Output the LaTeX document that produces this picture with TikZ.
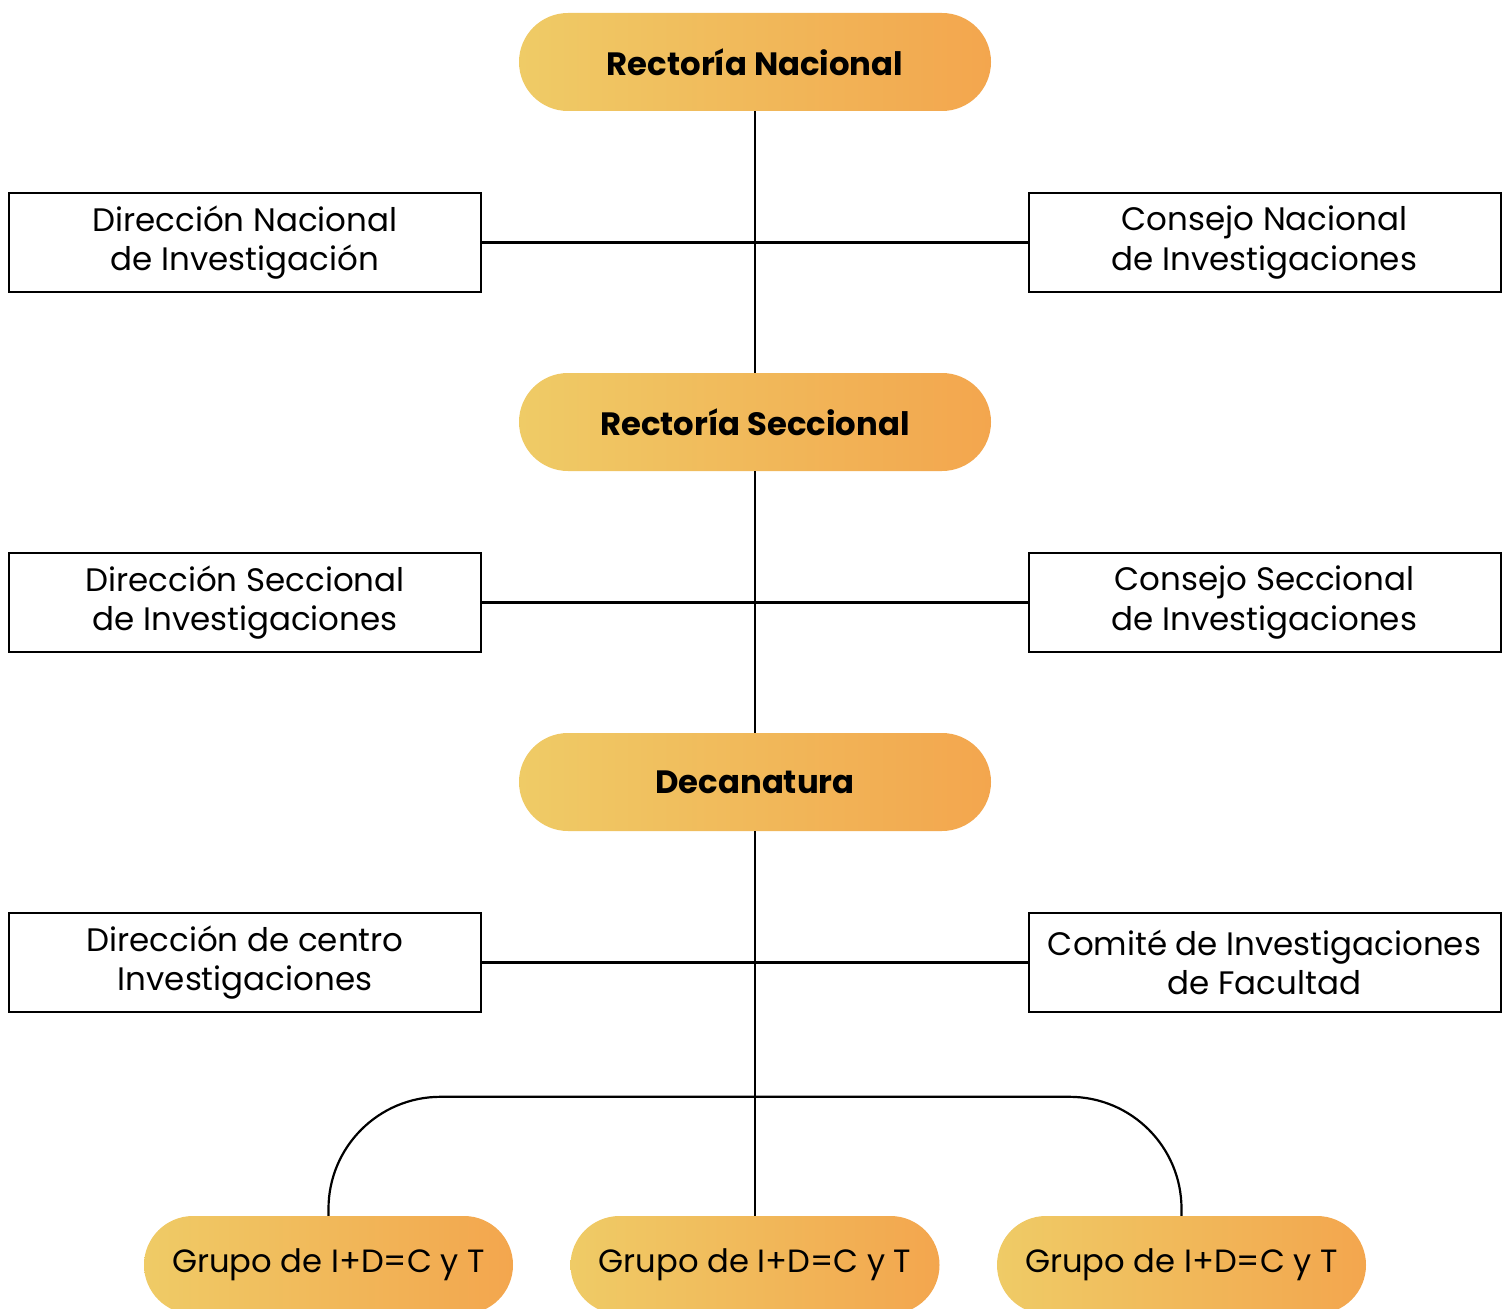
\documentclass[tikz,border=0pt]{standalone}
\usepackage{fontspec}
\setmainfont{Poppins}
\usetikzlibrary{calc}
\definecolor{gy}{HTML}{EFCB66}
\definecolor{go}{HTML}{F3A64E}
\tikzset{
  pill/.style={rounded corners=49pt, left color=gy, right color=go, draw=none,
    minimum width=472pt, minimum height=98pt, inner sep=0pt, font=\fontsize{32.3}{38}\selectfont\bfseries},
  gpill/.style={rounded corners=49pt, left color=gy, right color=go, draw=none,
    minimum width=369pt, minimum height=98pt, inner sep=0pt, font=\fontsize{32.2}{38}\selectfont},
  sbox/.style={draw=black, line width=2pt, minimum width=472pt, minimum height=99pt,
    inner sep=0pt, align=center, font=\fontsize{32.5}{39.5}\selectfont},
  conn/.style={draw=black, line width=2.2pt}
}
\begin{document}
\begin{tikzpicture}[x=1pt,y=-1pt]
\useasboundingbox (0,0) rectangle (1511,1308);
\node[pill] (rn) at (755,62) {Rectoría Nacional};
\node[pill] (rs) at (755,422) {Rectoría Seccional};
\node[pill] (dc) at (755,782) {Decanatura};
\node[sbox] (dn) at (245,242.5) {Dirección Nacional\\de Investigación};
\node[sbox] (cn) at (1264.5,242.5) {Consejo Nacional\\de Investigaciones};
\node[sbox] (ds) at (245,602.5) {Dirección Seccional\\de Investigaciones};
\node[sbox] (cs) at (1264.5,602.5) {Consejo Seccional\\de Investigaciones};
\node[sbox] (dd) at (245,962.5) {Dirección de centro\\Investigaciones};
\node[sbox] (cf) at (1264.5,962.5) {Comité de Investigaciones\\de Facultad};
\node[gpill] (g1) at (328.5,1265) {Grupo de I+D=C y T};
\node[gpill] (g2) at (755,1265) {Grupo de I+D=C y T};
\node[gpill] (g3) at (1181.5,1265) {Grupo de I+D=C y T};
\draw[conn] (rn.south) -- (rs.north);
\draw[conn] (rs.south) -- (dc.north);
\draw[conn] (dc.south) -- (g2.north);
\draw[conn] (dn.east) -- (cn.west);
\draw[conn] (ds.east) -- (cs.west);
\draw[conn] (dd.east) -- (cf.west);
\draw[conn, rounded corners=112pt] (g1.north) -- ++(0,-119) -- ($(g3.north)+(0,-119)$) -- (g3.north);
\end{tikzpicture}
\end{document}
